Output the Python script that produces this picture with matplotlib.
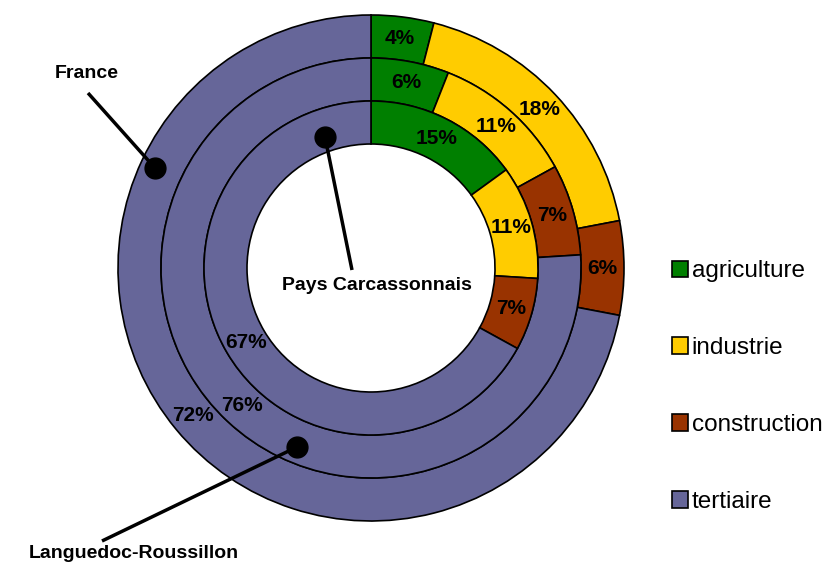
import matplotlib.pyplot as plt
import numpy as np

plt.rcParams['font.family'] = ['Liberation Sans', 'DejaVu Sans']

## Data
categories = ['agriculture', 'industrie', 'construction', 'tertiaire']
colors = ['#007F00', '#FFCC00', '#993300', '#666699']
france = [4, 18, 6, 72]
languedoc = [6, 11, 7, 76]
carcassonnais = [15, 11, 7, 67]

## Figure in pixel coordinates (y up)
W, H = 838, 567
fig = plt.figure(figsize=(W/100, H/100), dpi=100)
ax = fig.add_axes([0, 0, 1, 1])

cx, cy = 371, H - 268
ringWidth = 43
rings = [(france, 253), (languedoc, 210), (carcassonnais, 167)]

allWedges = []
for values, radius in rings:
    wedges, _ = ax.pie(values, colors=colors, radius=radius, center=(cx, cy),
                       startangle=90, counterclock=False,
                       wedgeprops=dict(width=ringWidth, edgecolor='black', linewidth=1.2))
    allWedges.append(wedges)
    # percentage labels at the middle of each ring segment
    rMid = radius - ringWidth/2
    for w, v in zip(wedges, values):
        ang = np.deg2rad((w.theta1 + w.theta2)/2)
        ax.text(cx + rMid*np.cos(ang), cy + rMid*np.sin(ang), f"{v}%",
                ha='center', va='center', fontsize=15, fontweight='bold')

ax.set_xlim(0, W)
ax.set_ylim(0, H)
ax.set_aspect('equal')
ax.axis('off')

## Series annotations (dot on ring, line to label)
def callout(dot, lineEnd, textPos, label):
    ax.plot([dot[0], lineEnd[0]], [H - dot[1], H - lineEnd[1]], color='black', lw=2.5,
            solid_capstyle='butt')
    ax.plot(dot[0], H - dot[1], 'o', color='black', markersize=15)
    ax.text(textPos[0], H - textPos[1], label, ha='center', va='center',
            fontsize=14, fontweight='bold')

callout((155, 168), (88, 93), (87, 73), 'France')
callout((325, 137), (352, 270), (377, 286), 'Pays Carcassonnais')
callout((297, 447), (102, 541), (134, 553), 'Languedoc-Roussillon')

## Legend
ax.legend(allWedges[0], categories, loc='upper left', bbox_to_anchor=(660/W, 1 - 248/H),
          frameon=False, fontsize=17.5, handlelength=0.65, handleheight=0.65,
          handletextpad=0.15, labelspacing=2.26, borderpad=0)

fig.savefig('out.png', dpi=100)
